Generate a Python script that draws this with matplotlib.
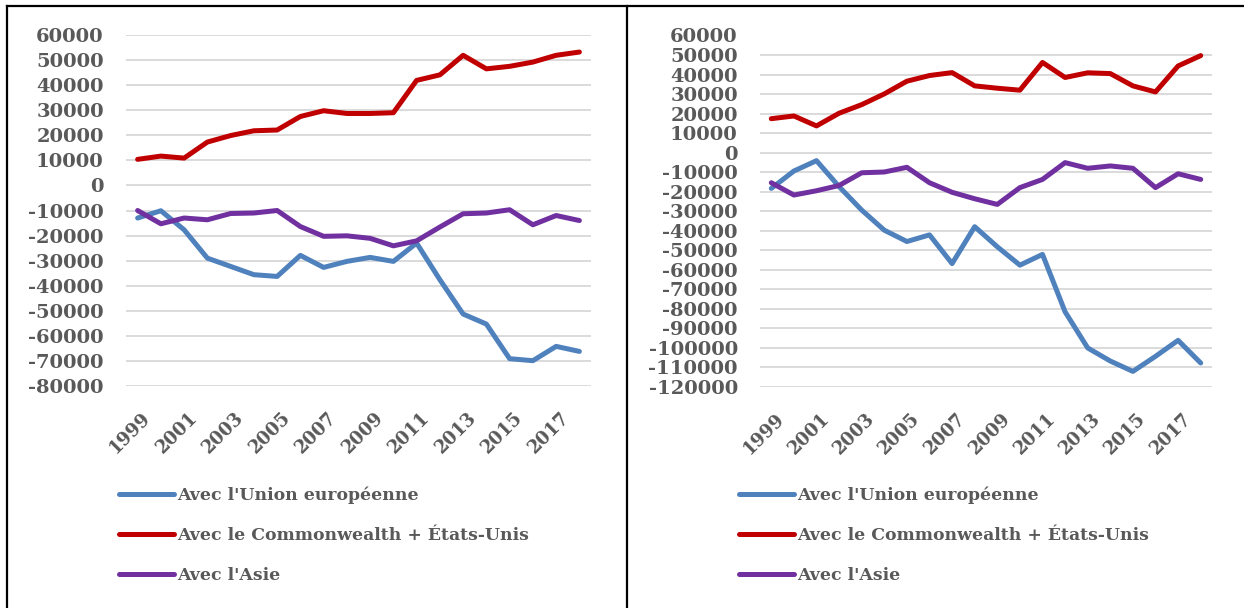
import matplotlib
matplotlib.use("Agg")
import matplotlib.pyplot as plt
from matplotlib.lines import Line2D
from matplotlib.transforms import ScaledTranslation
import numpy as np

years = list(range(1999, 2019))
tick_years = [str(y) for y in range(1999, 2019, 2)]

series_names = ["Avec l'Union européenne",
                "Avec le Commonwealth + États-Unis",
                "Avec l'Asie"]
colors = ["#4F81BD", "#C00000", "#7030A0"]

# Left panel
left_ue = [-13000, -10100, -17700, -29000, -32300, -35600, -36300, -27900, -32700, -30300,
           -28700, -30300, -23000, -37600, -51300, -55300, -69100, -69900, -64200, -66200]
left_cw = [10400, 11700, 10900, 17300, 19900, 21800, 22100, 27500, 29800, 28700,
           28700, 29000, 41900, 44100, 51900, 46500, 47500, 49200, 51900, 53200]
left_asie = [-10000, -15300, -13000, -13700, -11200, -11000, -10000, -16400, -20300, -20100,
             -21100, -24100, -22100, -16600, -11300, -11000, -9700, -15700, -12000, -14000]

# Right panel
right_ue = [-18300, -9400, -4100, -17400, -29400, -39700, -45500, -42100, -56800, -37900,
            -48200, -57600, -52100, -81500, -100000, -106700, -112000, -104300, -96100, -107700]
right_cw = [17400, 18800, 13700, 20200, 24600, 30100, 36600, 39500, 41000, 34200,
            33000, 32000, 46200, 38500, 40900, 40500, 34200, 31100, 44400, 49700]
right_asie = [-15400, -21700, -19500, -16800, -10300, -9900, -7500, -15400, -20300, -23600,
              -26500, -17900, -13700, -5100, -8000, -6800, -8000, -17900, -10800, -13700]

left_yticks = list(range(-80000, 60001, 10000))
right_yticks = list(range(-120000, 60001, 10000))

W, H = 1244, 608
fig = plt.figure(figsize=(W / 100, H / 100), dpi=100)
fig.patch.set_facecolor("white")

TXT = "#595959"
FONT = "DejaVu Serif"


def panel(rect, data, yticks, leg_x):
    ax = fig.add_axes(rect)
    x = np.arange(len(years))
    handles = []
    for vals, c, name in zip(data, colors, series_names):
        h, = ax.plot(x, vals, color=c, lw=3.6, solid_capstyle="round",
                     solid_joinstyle="round", label=name)
        handles.append(h)
    ax.set_xlim(-0.5, len(years) - 0.5)
    ax.set_ylim(yticks[0], yticks[-1])
    ax.set_yticks(yticks)
    ax.set_yticklabels([str(v) for v in yticks], fontfamily=FONT,
                       fontweight="bold", fontsize=14, color=TXT)
    ax.set_xticks(np.arange(0, len(years), 2))
    ax.set_xticklabels(tick_years, rotation=45, ha="right", va="top",
                       rotation_mode="anchor", fontfamily=FONT,
                       fontweight="bold", fontsize=13, color=TXT)
    ax.tick_params(axis="both", length=0)
    ax.tick_params(axis="y", pad=16)
    ax.tick_params(axis="x", pad=16.5)
    off = ScaledTranslation(4 / 100, 0, fig.dpi_scale_trans)
    for lab in ax.get_xticklabels():
        lab.set_transform(lab.get_transform() + off)
    ax.grid(axis="y", color="#DADADA", lw=1.4)
    ax.set_axisbelow(True)
    for s in ax.spines.values():
        s.set_visible(False)
    leg = ax.legend(handles=handles, loc="upper left",
                    bbox_to_anchor=(leg_x / W, 1 - 487 / H),
                    bbox_transform=fig.transFigure, frameon=False,
                    prop={"family": FONT, "weight": "bold", "size": 12.4},
                    labelcolor=TXT, handlelength=3.2, handletextpad=0.17,
                    labelspacing=1.31, borderaxespad=0, borderpad=0)
    for lh in leg.get_lines():
        lh.set_linewidth(3.6)
    return ax


panel([126 / W, 1 - 386 / H, 465 / W, 351 / H],
      [left_ue, left_cw, left_asie], left_yticks, 119)
panel([760 / W, 1 - 387 / H, 452 / W, 351.5 / H],
      [right_ue, right_cw, right_asie], right_yticks, 739)

# panel frames
kw = dict(transform=fig.transFigure, color="black", lw=1.6)
fig.add_artist(Line2D([7 / W, 1], [1 - 5.5 / H, 1 - 5.5 / H], **kw))
fig.add_artist(Line2D([7 / W, 7 / W], [0, 1 - 5.5 / H], **kw))
fig.add_artist(Line2D([627 / W, 627 / W], [0, 1 - 5.5 / H], **kw))

fig.savefig("out.png", dpi=100)
